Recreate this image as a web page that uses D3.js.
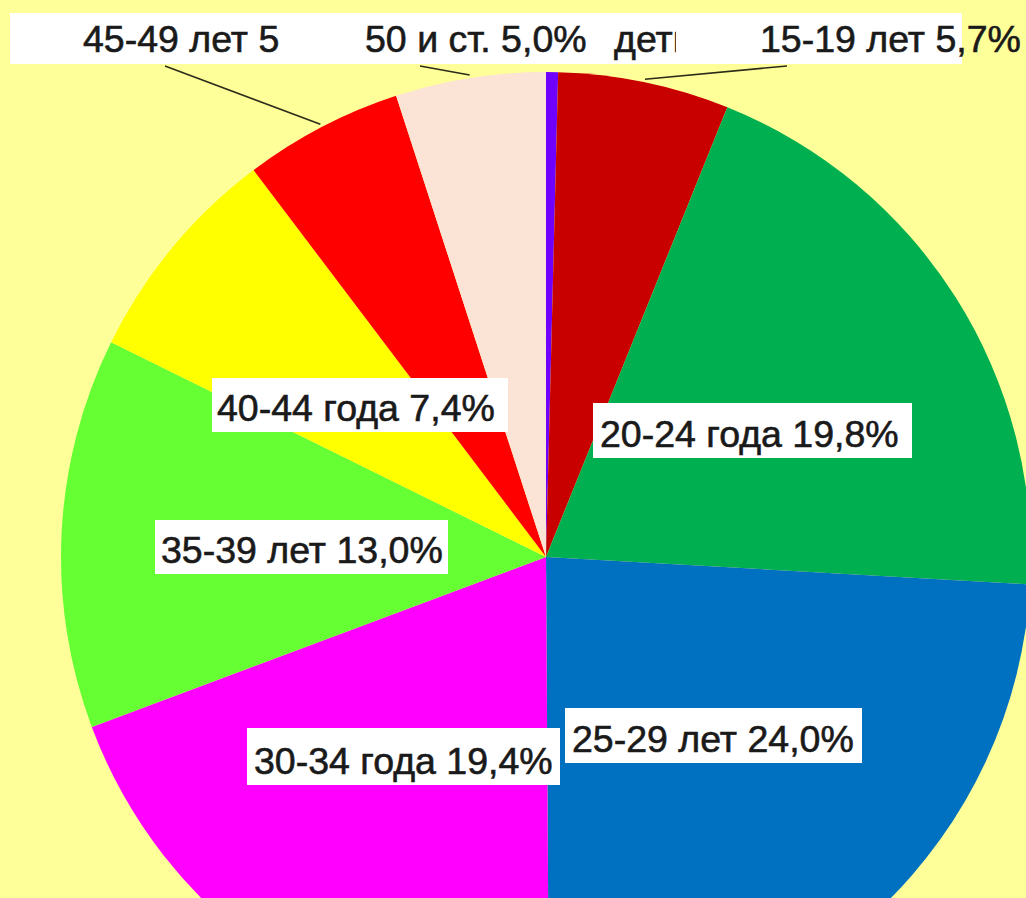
<!DOCTYPE html>
<html lang="ru">
<head>
<meta charset="UTF-8">
<title>Возрастная структура</title>
<style>
  body { margin: 0; background: #ffff99; overflow: hidden; }
  svg { display: block; }
  .lbl text { font-family: "Liberation Sans", Arial, sans-serif; font-size: 37.5px; fill: #1a1a1a;
              stroke: #1a1a1a; stroke-width: 0.6px; }
  .lbl rect { fill: #fff; }
  .leader { stroke: #2b2b1a; stroke-width: 1.5px; fill: none; }
</style>
</head>
<body>
<script src="https://cdn.jsdelivr.net/npm/d3@7"></script>
<script>
// data (percent)
var categories = ["дети до 15 лет", "15-19 лет", "20-24 года", "25-29 лет", "30-34 года",
                  "35-39 лет", "40-44 года", "45-49 лет", "50 и ст."];
var shares = [0.4, 5.7, 19.8, 24.0, 19.4, 13.0, 7.4, 5.3, 5.0];
var colors = ["#6f00ff", "#c80000", "#00b050", "#0070c0", "#ff00ff",
              "#66ff33", "#ffff00", "#ff0000", "#fbe3d5"];

// label layout: box [x0,x1,y0,y1], text start x, baseline y, clip right edge, leader end (label side)
var labelLayout = [
  { box: [598, 700, 13, 64], tx: 614, ty: 52, clip: 676, lead: null },
  { box: [683, 962, 13, 64], tx: 760, ty: 52, clip: null, lead: [787, 66] },
  { box: [593, 912, 403, 458], tx: 600, ty: 447, clip: null, lead: null },
  { box: [565, 862, 708, 763], tx: 572, ty: 752, clip: null, lead: null },
  { box: [247, 560, 728, 785], tx: 254, ty: 774, clip: null, lead: null },
  { box: [155, 448, 520, 574], tx: 161, ty: 563, clip: null, lead: null },
  { box: [212, 508, 378, 432], tx: 217, ty: 421, clip: null, lead: null },
  { box: [10, 360, 13, 64], tx: 83, ty: 52, clip: null, lead: [165, 66] },
  { box: [280, 605, 13, 64], tx: 365, ty: 52, clip: null, lead: [420, 66] }
];
// drawing order of labels (later ones cover earlier ones)
var labelOrder = [7, 8, 0, 1, 2, 3, 4, 5, 6];

var width = 1026, height = 898,
    cx = 546, cy = 557, radius = 485;

var svg = d3.select("body").append("svg")
    .attr("width", width)
    .attr("height", height);

svg.append("rect").attr("width", width).attr("height", height).attr("fill", "#ffff99");

var pie = d3.pie().sort(null).value(function(d) { return d; });
var arcs = pie(shares);
var arc = d3.arc().innerRadius(0).outerRadius(radius);

var g = svg.append("g").attr("transform", "translate(" + cx + "," + cy + ")");

g.selectAll("path")
    .data(arcs)
  .enter().append("path")
    .attr("d", arc)
    .attr("fill", function(d, i) { return colors[i]; });

function fmt(v) { return d3.format(".1f")(v).replace(".", ",") + "%"; }

// leader lines
arcs.forEach(function(a, i) {
  var L = labelLayout[i];
  if (!L.lead) return;
  var mid = (a.startAngle + a.endAngle) / 2, r = radius + 3;
  svg.append("line")
      .attr("class", "leader")
      .attr("x1", L.lead[0]).attr("y1", L.lead[1])
      .attr("x2", cx + r * Math.sin(mid)).attr("y2", cy - r * Math.cos(mid));
});

var defs = svg.append("defs");

labelOrder.forEach(function(i) {
  var L = labelLayout[i];
  var lg = svg.append("g").attr("class", "lbl");
  defs.append("clipPath").attr("id", "clip" + i)
    .append("rect")
      .attr("x", L.box[0]).attr("y", L.box[2])
      .attr("width", L.clip ? L.clip - L.box[0] : width).attr("height", L.box[3] - L.box[2]);
  lg.append("rect")
      .attr("x", L.box[0]).attr("y", L.box[2])
      .attr("width", L.box[1] - L.box[0]).attr("height", L.box[3] - L.box[2]);
  lg.append("text")
      .attr("clip-path", "url(#clip" + i + ")")
      .attr("x", L.tx).attr("y", L.ty)
      .text(categories[i] + " " + fmt(shares[i]));
});
</script>
</body>
</html>
